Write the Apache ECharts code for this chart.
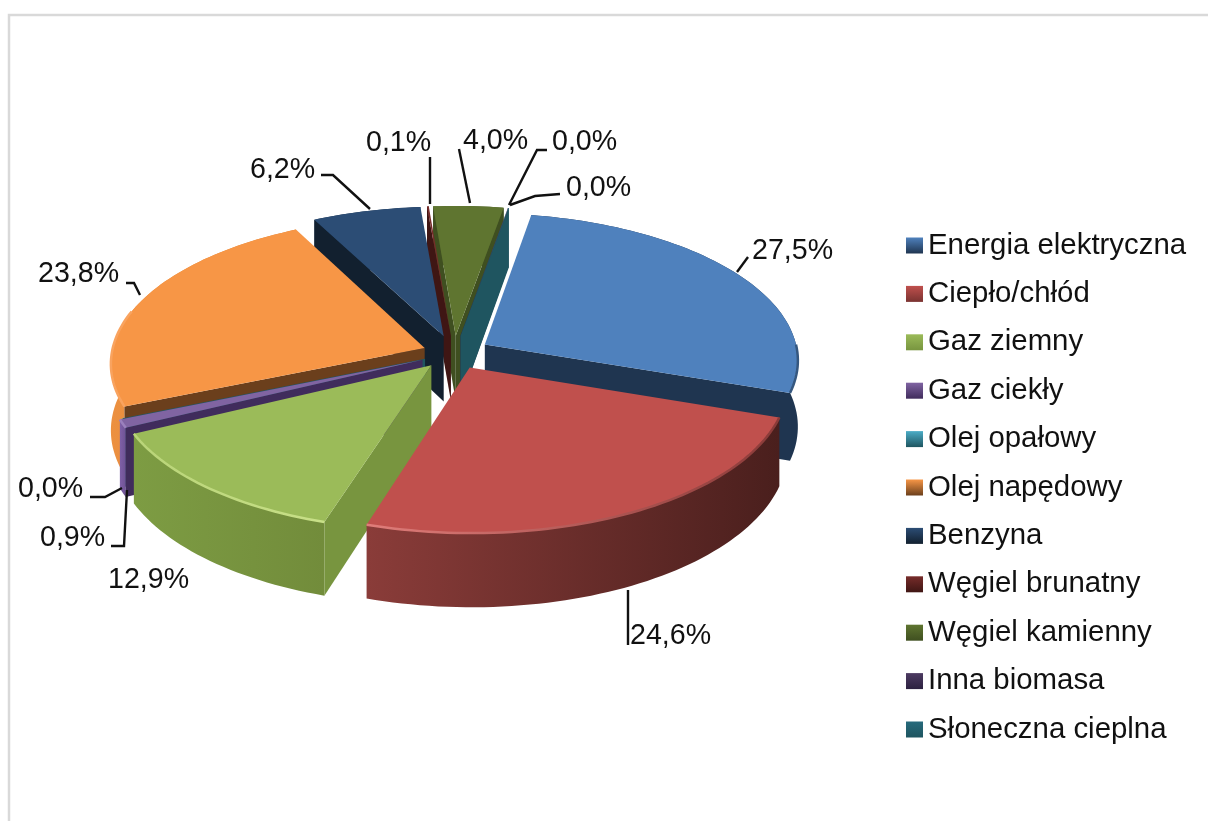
<!DOCTYPE html>
<html><head><meta charset="utf-8">
<style>html,body{margin:0;padding:0;background:#fff}#c{width:1208px;height:821px}</style>
<script src="https://cdn.jsdelivr.net/npm/echarts@6/dist/echarts.min.js"></script>
</head><body><div id="c"></div>
<script>
const categories=['Energia elektryczna','Ciepło/chłód','Gaz ziemny','Gaz ciekły','Olej opałowy','Olej napędowy','Benzyna','Węgiel brunatny','Węgiel kamienny','Inna biomasa','Słoneczna cieplna'];
const shares=[27.5,24.6,12.9,0.9,0.02,23.8,6.2,0.1,4.0,0.02,0.03];

// styling
const topColors=['#4f81bd','#c0504d','#9bbb59','#8064a2','#4bacc6','#f79646','#2c4d75','#772c2a','#5f7530','#4d3b62','#276a7c'];
const sideColors=['#1f3550','#7a3331','#78953f','#402c5c','#1f5560','#6b3f1c','#12202f','#3f1614','#3f4f20','#2c2140','#1f5560'];
const wallLeft=['#1f3550','#8a3c39','#7d9c43','#7f60a8','#2f7f94','#ec9040','#1c3450','#5a1f1d','#4a5c25','#3a2c4c','#1f5560'];
const wallRight=['#1f3550','#4a1f1d','#728c3b','#6e5294','#2f7f94','#d98236','#1c3450','#5a1f1d','#4a5c25','#3a2c4c','#1f5560'];
const rimLeft=['#3d6798','#e07d7a','#b9d478','#9a80bd','#4bacc6','#f9a35f','#2c4d75','#772c2a','#5f7530','#4d3b62','#276a7c'];
const rimRight=['#35577f','#8a3a38','#c8e088','#9a80bd','#4bacc6','#f9a35f','#2c4d75','#772c2a','#5f7530','#4d3b62','#276a7c'];

// projection of the tilted disc
const CX=454,CY=353,RX=313,RY=146,PERSP=0.10,DEPTH=66,START=10;
const explode=[0.115,0.11,0.11,0.11,0.10,0.10,0.12,0.12,0.12,0.12,0.12];
const total=shares.reduce((a,b)=>a+b,0);
const spans=[];let acc=START;
shares.forEach(v=>{const sweep=v/total*360;spans.push([acc,acc+sweep]);acc+=sweep;});
const rad=d=>d*Math.PI/180;
function proj(u,v,drop){const s=1/(1-PERSP*v);return [CX+RX*u*s,CY+RY*v*s+(drop?DEPTH*s:0)];}
function disc(i,deg,r){const m=rad((spans[i][0]+spans[i][1])/2),a=rad(deg);
  return [explode[i]*Math.sin(m)+r*Math.sin(a),-explode[i]*Math.cos(m)-r*Math.cos(a)];}
function arc(i,drop,from,to){const a=from===undefined?spans[i][0]:from,b=to===undefined?spans[i][1]:to;
  const n=Math.max(2,Math.ceil((b-a)/1.5)),p=[];
  for(let k=0;k<=n;k++){const d=disc(i,a+(b-a)*k/n,1);p.push(proj(d[0],d[1],drop));}return p;}
function centreDepth(i){const m=rad((spans[i][0]+spans[i][1])/2);return -Math.cos(m);}
const order=categories.map((c,i)=>i).sort((a,b)=>centreDepth(a)-centreDepth(b));

function renderSlice(i){return function(){
  const ap=disc(i,0,0),A=proj(ap[0],ap[1],false),Ad=proj(ap[0],ap[1],true);
  const top=arc(i,false),bot=arc(i,true);
  const xs=top.map(p=>p[0]),x0=Math.min(...xs),x1=Math.max(...xs)+0.01;
  const grad=(c0,c1)=>({type:'linear',global:true,x:x0,y:0,x2:x1,y2:0,colorStops:[{offset:0,color:c0},{offset:1,color:c1}]});
  const first=top[0],last=top[top.length-1],firstD=bot[0],lastD=bot[bot.length-1];
  const kids=[{type:'polygon',shape:{points:top.concat(bot.slice().reverse())},style:{fill:grad(wallLeft[i],wallRight[i])}}];
  // a cut face shows only when it turns towards the viewer
  if(first[0]<A[0]) kids.push({type:'polygon',shape:{points:[A,first,firstD,Ad]},style:{fill:sideColors[i]}});
  if(last[0]>A[0]) kids.push({type:'polygon',shape:{points:[A,last,lastD,Ad]},style:{fill:sideColors[i]}});
  kids.push({type:'polygon',shape:{points:[A].concat(top)},style:{fill:topColors[i]}});
  const a=Math.max(spans[i][0],90),b=Math.min(spans[i][1],285);
  if(b>a) kids.push({type:'polyline',shape:{points:arc(i,false,a,b)},style:{fill:'none',stroke:grad(rimLeft[i],rimRight[i]),lineWidth:2.5}});
  return {type:'group',children:kids};
};}

// label placement: [left, middle] of the text, then its leader line
const labelPos=[[752,251],[630,636],[108,580],[40,538],[18,489],[38,274],[250,170],[366,143],[463,141],[552,142],[566,188]];
const leaders=[
 [[748,257],[737,272]],
 [[628,590],[628,645]],
 [],
 [[111,546],[124,546],[127,490]],
 [[90,497],[105,497],[122,488]],
 [[126,283],[134,283],[140,295]],
 [[321,175],[333,175],[370,209]],
 [[430,157],[430,204]],
 [[459,149],[470,203]],
 [[547,150],[537,150],[509,205]],
 [[560,194],[535,196],[510,205]]
];
const pct=v=>v.toFixed(1).replace('.',',')+'%';
function renderLabel(params,api){
  const i=params.dataIndex,kids=[];
  if(leaders[i].length) kids.push({type:'polyline',shape:{points:leaders[i]},style:{fill:'none',stroke:'#111',lineWidth:2.4}});
  kids.push({type:'text',style:{text:pct(api.value(0)),x:labelPos[i][0],y:labelPos[i][1],font:'28.6px "Liberation Sans"',fill:'#111',align:'left',verticalAlign:'middle'}});
  return {type:'group',children:kids};
}

const series=categories.map((name,i)=>({
  type:'custom',name,coordinateSystem:'none',z:2+order.indexOf(i),silent:true,animation:false,
  itemStyle:{color:topColors[i]},data:[[shares[i]]],renderItem:renderSlice(i)
}));
series.push({type:'custom',name:'etykiety',coordinateSystem:'none',z:40,silent:true,animation:false,
  data:shares.map(v=>[v]),renderItem:renderLabel});

const chart=echarts.init(document.getElementById('c'),null,{renderer:'canvas'});
chart.setOption({
  backgroundColor:'#fff',animation:false,
  graphic:[{type:'polyline',z:1,shape:{points:[[9,821],[9,15],[1208,15]]},style:{fill:'none',stroke:'#d9d9d9',lineWidth:2.5}}],
  legend:{orient:'vertical',left:901,top:226,icon:'rect',itemWidth:17,itemHeight:16,itemGap:19.4,
    textStyle:{fontFamily:'Liberation Sans',fontSize:29.4,lineHeight:29,color:'#111'},
    data:categories.map((name,i)=>({name,icon:'rect',itemStyle:{color:{type:'linear',x:0,y:0,x2:0,y2:1,colorStops:[{offset:0,color:topColors[i]},{offset:1,color:sideColors[i]}]}}}))},
  series
});
</script></body></html>
